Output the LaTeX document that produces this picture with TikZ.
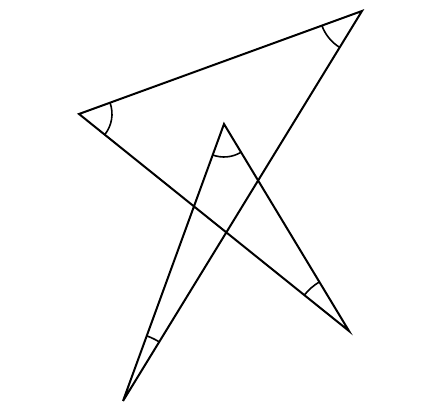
\documentclass[tikz,border=0pt]{standalone}
\usetikzlibrary{angles}

\begin{document}
\begin{tikzpicture}[x=0.75pt,y=0.75pt]
		\tikzset{side/.style={black,line width=1.5pt,line join=miter},
			mark/.style={draw=black,line width=1.2pt,angle radius=#1}}
		\useasboundingbox (0,0) rectangle (440,413);
		\coordinate (A) at (79,299);
		\coordinate (B) at (362,402);
		\coordinate (C) at (123,12);
		\coordinate (D) at (224,289);
		\coordinate (E) at (349,82);
		\draw [side] (A) -- (B) -- (C) -- (D) -- (E) -- cycle;
		\pic [mark=24.75pt] {angle = E--A--B};
		\pic [mark=32pt] {angle = A--B--C};
		\pic [mark=52pt] {angle = B--C--D};
		\pic [mark=24.75pt] {angle = C--D--E};
		\pic [mark=43pt] {angle = D--E--A};
	\end{tikzpicture}
\end{document}
